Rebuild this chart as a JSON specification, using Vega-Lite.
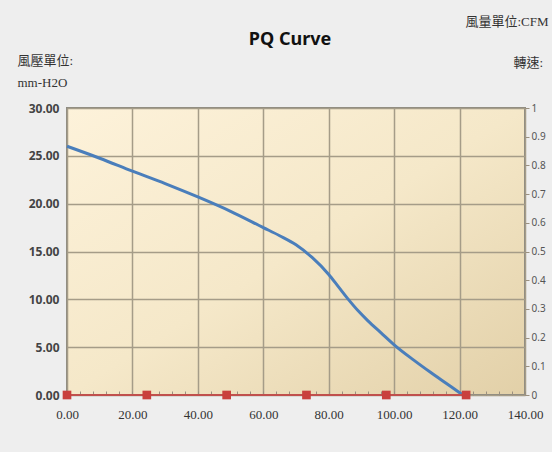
{
  "$schema": "https://vega.github.io/schema/vega-lite/v6.json",
  "width": 458,
  "height": 287,
  "autosize": {"type": "none"},
  "padding": {"left": 67, "top": 108, "right": 27, "bottom": 57},
  "background": "#eeeeee",
  "title": {
    "text": "PQ Curve",
    "font": "Noto Sans",
    "fontSize": 18,
    "fontWeight": "bold",
    "color": "#111111",
    "anchor": "middle",
    "dx": -6,
    "dy": 38
  },
  "datasets": {
    "pq": [
      {"cfm": 0, "pressure": 26.0},
      {"cfm": 10, "pressure": 24.75},
      {"cfm": 20, "pressure": 23.4},
      {"cfm": 30, "pressure": 22.1},
      {"cfm": 40, "pressure": 20.7},
      {"cfm": 50, "pressure": 19.2},
      {"cfm": 60, "pressure": 17.5},
      {"cfm": 65, "pressure": 16.65},
      {"cfm": 70, "pressure": 15.7},
      {"cfm": 75, "pressure": 14.35},
      {"cfm": 80, "pressure": 12.6},
      {"cfm": 83, "pressure": 11.3},
      {"cfm": 86, "pressure": 10.0},
      {"cfm": 89, "pressure": 8.8},
      {"cfm": 92, "pressure": 7.75},
      {"cfm": 96, "pressure": 6.5},
      {"cfm": 100, "pressure": 5.25},
      {"cfm": 106, "pressure": 3.65},
      {"cfm": 111, "pressure": 2.4},
      {"cfm": 116, "pressure": 1.2},
      {"cfm": 121, "pressure": 0}
    ],
    "speed": [
      {"cfm": 0, "rpm": 0},
      {"cfm": 24.4, "rpm": 0},
      {"cfm": 48.8, "rpm": 0},
      {"cfm": 73.2, "rpm": 0},
      {"cfm": 97.6, "rpm": 0},
      {"cfm": 122, "rpm": 0}
    ]
  },
  "encoding": {
    "x": {
      "field": "cfm",
      "type": "quantitative",
      "scale": {"domain": [0, 140], "nice": false, "zero": false},
      "axis": {
        "values": [0,4,8,12,16,20,24,28,32,36,40,44,48,52,56,60,64,68,72,76,80,84,88,92,96,100,104,108,112,116,120,124,128,132,136,140],
        "labelExpr": "datum.value % 20 === 0 ? format(datum.value, '.2f') : ''",
        "labelFont": "Liberation Serif",
        "labelFontSize": 13,
        "labelColor": "#333333",
        "labelPadding": 17,
        "labelFlush": false,
        "labelOverlap": false,
        "ticks": true,
        "tickSize": -4,
        "tickColor": "#9a9080",
        "tickWidth": 1,
        "domain": false,
        "grid": true,
        "gridColor": "#a59c88",
        "gridWidth": 1.5,
        "gridOpacity": {"condition": {"test": "datum.value % 20 === 0", "value": 1}, "value": 0},
        "title": "風量單位:CFM",
        "titleFont": "Liberation Serif, Noto Sans CJK TC",
        "titleFontSize": 13,
        "titleFontWeight": "normal",
        "titleColor": "#333333",
        "titleAngle": 0,
        "titleAlign": "right",
        "titleBaseline": "top",
        "titleAnchor": null,
        "titleX": 481,
        "titleY": -380
      }
    }
  },
  "layer": [
    {
      "data": {"name": "pq"},
      "mark": {"type": "line", "color": "#4a7ebb", "strokeWidth": 3, "interpolate": "monotone"},
      "encoding": {
        "y": {
          "field": "pressure",
          "type": "quantitative",
          "scale": {"domain": [0, 30], "nice": false},
          "axis": {
            "values": [0, 5, 10, 15, 20, 25, 30],
            "format": ".2f",
            "labelFont": "Noto Sans",
            "labelFontSize": 12,
            "labelFontWeight": "bold",
            "labelColor": "#444444",
            "labelPadding": 8,
            "ticks": false,
            "domain": false,
            "grid": true,
            "gridColor": "#a59c88",
            "gridWidth": 1.5,
            "title": ["風壓單位:", "mm-H2O"],
            "titleFont": "Liberation Serif, Noto Sans CJK TC",
            "titleFontSize": 13,
            "titleFontWeight": "normal",
            "titleColor": "#333333",
            "titleAngle": 0,
            "titleAlign": "left",
            "titleBaseline": "top",
            "titleAnchor": null,
            "titleLineHeight": 22,
            "titleX": -50,
            "titleY": -54
          }
        }
      }
    },
    {
      "data": {"name": "speed"},
      "mark": {"type": "line", "color": "#c0504d", "strokeWidth": 2, "clip": false},
      "encoding": {
        "y": {
          "field": "rpm",
          "type": "quantitative",
          "scale": {"domain": [0, 1], "nice": false},
          "axis": {
            "orient": "right",
            "values": [0, 0.1, 0.2, 0.3, 0.4, 0.5, 0.6, 0.7, 0.8, 0.9, 1],
            "format": "~g",
            "labelFont": "Noto Sans",
            "labelFontSize": 10,
            "labelColor": "#555555",
            "labelPadding": 2,
            "ticks": true,
            "tickSize": 4,
            "tickColor": "#9a9080",
            "domain": false,
            "grid": false,
            "title": "轉速:",
            "titleFont": "Liberation Serif, Noto Sans CJK TC",
            "titleFontSize": 13,
            "titleFontWeight": "normal",
            "titleColor": "#333333",
            "titleAngle": 0,
            "titleAlign": "left",
            "titleBaseline": "top",
            "titleAnchor": null,
            "titleX": -12,
            "titleY": -52
          }
        }
      }
    },
    {
      "data": {"name": "speed"},
      "mark": {"type": "square", "color": "#c9403d", "opacity": 1, "size": 75, "clip": false},
      "encoding": {
        "y": {"field": "rpm", "type": "quantitative", "scale": {"domain": [0, 1], "nice": false}, "axis": null}
      }
    }
  ],
  "resolve": {"scale": {"y": "independent"}},
  "config": {
    "view": {
      "stroke": "#8c8a80",
      "strokeWidth": 2,
      "fill": {
        "gradient": "linear",
        "x1": 0, "y1": 0, "x2": 1, "y2": 1,
        "stops": [
          {"offset": 0, "color": "#fdf2da"},
          {"offset": 0.5, "color": "#f5e8c9"},
          {"offset": 1, "color": "#e2d0a8"}
        ]
      }
    }
  }
}
